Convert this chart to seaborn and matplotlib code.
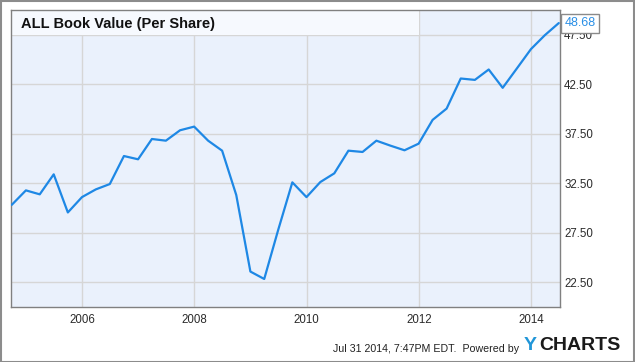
import matplotlib
matplotlib.use("Agg")
import matplotlib.pyplot as plt
import matplotlib.dates as mdates
import pandas as pd
import seaborn as sns
from matplotlib.patches import Rectangle

# quarterly book value per share, Q3 2004 .. Q2 2014
quarters = pd.date_range("2004-09-30", "2014-06-30", freq="QE")
book_value = [30.32, 31.78, 31.38, 33.40, 29.55, 31.10, 31.88, 32.42,
              35.25, 34.92, 36.97, 36.80, 37.85, 38.22, 36.80, 35.79,
              31.31, 23.58, 22.83, 27.79, 32.59, 31.10, 32.62, 33.50,
              35.79, 35.66, 36.80, 36.30, 35.83, 36.50, 38.90, 40.04,
              43.08, 42.94, 43.99, 42.14, 44.09, 46.05, 47.45, 48.68]
y_ticks = [22.5, 27.5, 32.5, 37.5, 42.5, 47.5]
x_tick_years = [2006, 2008, 2010, 2012, 2014]

title = "ALL Book Value (Per Share)"
footer = "Jul 31 2014, 7:47PM EDT.  Powered by"

df = pd.DataFrame({"date": quarters, "value": book_value})

sns.set_style("white")
plt.rcParams["font.family"] = ["Liberation Sans", "DejaVu Sans"]

fig = plt.figure(figsize=(6.35, 3.62), dpi=100)
ax = fig.add_axes([11 / 635, 55 / 362, 549 / 635, 297 / 362])
ax.set_facecolor("#eaf1fc")

sns.lineplot(data=df, x="date", y="value", ax=ax, color="#1e88e5",
             linewidth=1.6, zorder=3)

ax.set_xlim(pd.Timestamp("2004-09-25"), pd.Timestamp("2014-07-08"))
ax.set_ylim(20, 50)

# lighter title band
x0 = mdates.date2num(pd.Timestamp("2004-09-25"))
x1 = mdates.date2num(pd.Timestamp("2012-01-01"))
ax.add_patch(Rectangle((x0, 47.5), x1 - x0, 2.5, facecolor="#f6f9fe",
                       edgecolor="none", zorder=1))

ax.set_yticks(y_ticks)
ax.set_yticklabels([f"{v:.2f}" for v in y_ticks])
ax.yaxis.tick_right()
ax.set_xticks([pd.Timestamp(f"{y}-01-01") for y in x_tick_years])
ax.set_xticklabels([str(y) for y in x_tick_years])
ax.tick_params(axis="both", length=0, labelsize=8.3, labelcolor="#2b2b2b")
ax.tick_params(axis="x", pad=5)
ax.tick_params(axis="y", pad=3)
ax.grid(True, color="#d6d6d6", linewidth=1, zorder=2)
ax.set_axisbelow(True)
ax.set_xlabel("")
ax.set_ylabel("")
for side in ["left", "right", "top", "bottom"]:
    ax.spines[side].set_visible(True)
    ax.spines[side].set_color("#808080")
    ax.spines[side].set_linewidth(1)

# last value tag
ax.annotate(f"{book_value[-1]:.2f}", xy=(quarters[-1], book_value[-1]),
            xytext=(4, 0), textcoords="offset points", ha="left", va="center",
            fontsize=9, color="#2a8fe6", annotation_clip=False, zorder=5,
            bbox=dict(boxstyle="square,pad=0.28", facecolor="white",
                      edgecolor="#8a8a8a", linewidth=1))

fig.text(21 / 635, 1 - 24 / 362, title, fontsize=10.5, fontweight="bold",
         color="#111111", va="center", ha="left")

fig.text(519 / 635, 1 - 349 / 362, footer, fontsize=7.7, color="#222222",
         ha="right", va="center")
fig.text(524 / 635, 1 - 346 / 362, "Y", fontsize=14, fontweight="bold",
         color="#2196d8", ha="left", va="center")
fig.text(539 / 635, 1 - 346 / 362, "CHARTS", fontsize=14, fontweight="heavy",
         color="#1a1a1a", ha="left", va="center")

fig.add_artist(Rectangle((0.5 / 635, 0.5 / 362), 633.5 / 635, 360.5 / 362,
                         transform=fig.transFigure, fill=False,
                         edgecolor="#8c8c8c", linewidth=1.5))

fig.savefig("out.png", dpi=100)
